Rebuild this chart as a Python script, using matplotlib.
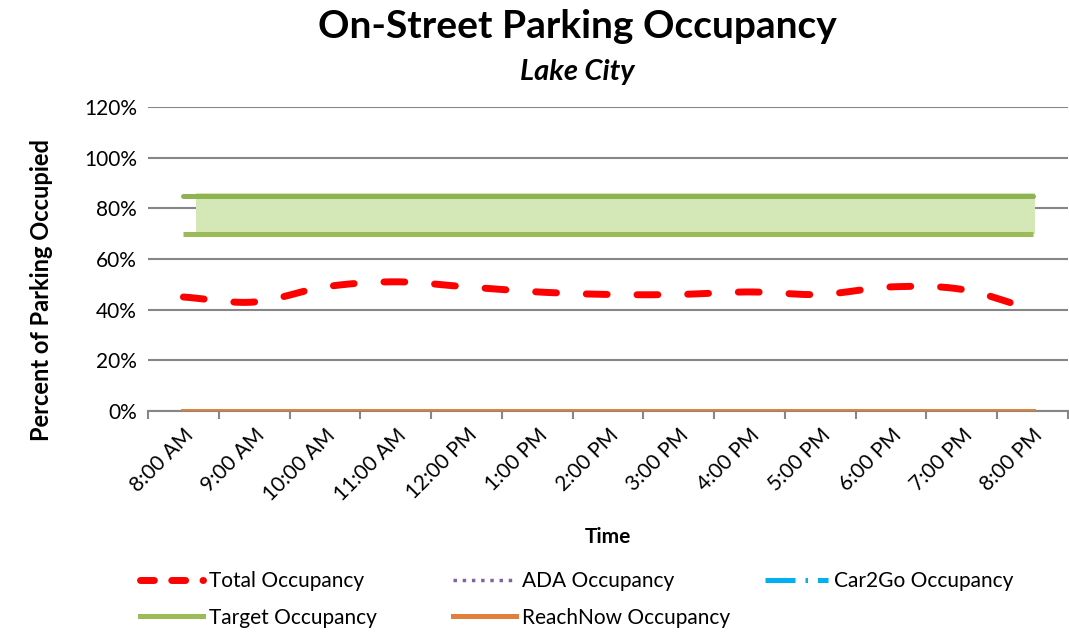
import numpy as np
import matplotlib
matplotlib.use("Agg")
import matplotlib.pyplot as plt
from matplotlib.lines import Line2D
from matplotlib.ticker import FuncFormatter, FixedLocator

plt.rcParams['font.family'] = ['Lato', 'DejaVu Sans']

# ====== data ======
times = ['8:00 AM', '9:00 AM', '10:00 AM', '11:00 AM', '12:00 PM', '1:00 PM',
         '2:00 PM', '3:00 PM', '4:00 PM', '5:00 PM', '6:00 PM', '7:00 PM', '8:00 PM']
total_occ = [0.45, 0.43, 0.49, 0.51, 0.49, 0.47, 0.46, 0.46, 0.47, 0.46, 0.49, 0.48, 0.40]
ada_occ = [0.0] * 13
car2go_occ = [0.0] * 13
reachnow_occ = [0.0] * 13
target_low = [0.70] * 13
target_high = [0.85] * 13

GREEN = '#9bbb59'
RED = '#ff0000'
ORANGE = '#e0803a'
PURPLE = '#8064a2'
CYAN = '#00b0f0'


def smooth(x, y, n=20):
    # Catmull-Rom curve through the points, like Excel's smoothed line
    x = np.asarray(x, float)
    y = np.asarray(y, float)
    px = np.concatenate([[2 * x[0] - x[1]], x, [2 * x[-1] - x[-2]]])
    py = np.concatenate([[2 * y[0] - y[1]], y, [2 * y[-1] - y[-2]]])
    xs, ys = [], []
    t = np.linspace(0, 1, n, endpoint=False)
    for i in range(1, len(px) - 2):
        for p, out in ((px, xs), (py, ys)):
            p0, p1, p2, p3 = p[i - 1], p[i], p[i + 1], p[i + 2]
            out.extend(0.5 * ((2 * p1) + (-p0 + p2) * t
                              + (2 * p0 - 5 * p1 + 4 * p2 - p3) * t ** 2
                              + (-p0 + 3 * p1 - 3 * p2 + p3) * t ** 3))
    xs.append(x[-1])
    ys.append(y[-1])
    return np.array(xs), np.array(ys)


fig = plt.figure(figsize=(10.69, 6.32), dpi=100)
ax = fig.add_axes([148 / 1069, 1 - 411 / 632, 920 / 1069, (411 - 107) / 632])

x = np.arange(len(times))

# target band (area shading, slightly offset like the original)
ax.fill_between([0.18, 12.03], [0.86, 0.86], [0.70, 0.70],
                facecolor='#d3e8b6', edgecolor='none', zorder=2)
ax.plot(x, target_high, color='#8fb350', lw=3.6, solid_capstyle='round', zorder=3)
ax.plot(x, target_low, color=GREEN, lw=3.6, solid_capstyle='butt', zorder=3)

# total occupancy, smoothed dashed line
sx, sy = smooth(x, total_occ)
ax.plot(sx, sy, color=RED, lw=5, dashes=(3, 4.3), dash_capstyle='round', zorder=4)

# zero series
ax.plot(x, ada_occ, color=PURPLE, lw=2.5, ls=':', zorder=3)
ax.plot(x, car2go_occ, color=CYAN, lw=3.6, ls='--', zorder=3)
ax.plot(x, reachnow_occ, color=ORANGE, lw=3.6, zorder=5)

ax.set_xlim(-0.5, 12.5)
ax.set_ylim(0, 1.2)
ax.set_yticks(np.arange(0, 1.21, 0.2))
ax.yaxis.set_major_formatter(FuncFormatter(lambda v, p: f'{v * 100:.0f}%'))
ax.grid(axis='y', color='#868686', lw=1.5, zorder=1)
ax.set_axisbelow(True)

ax.set_xticks(x)
ax.set_xticklabels(times, rotation=45, ha='right', rotation_mode='anchor', fontsize=15)
ax.xaxis.set_minor_locator(FixedLocator(np.arange(-0.5, 12.6, 1)))
ax.tick_params(axis='x', which='major', length=0, pad=10)
ax.tick_params(axis='x', which='minor', length=6, width=1.5, color='#868686', direction='out')
ax.tick_params(axis='y', length=0, labelsize=15, pad=8)

for s in ['top', 'right', 'left']:
    ax.spines[s].set_visible(False)
ax.spines['bottom'].set_color('#868686')
ax.spines['bottom'].set_linewidth(1.5)

ax.set_xlabel('Time', fontsize=15, fontweight='bold', labelpad=16)
ax.set_ylabel('Percent of Parking Occupied', fontsize=17, fontweight='bold')
ax.yaxis.set_label_coords((53 - 148) / 920, (411 - 290) / 304)

fig.text(577 / 1069, 1 - 27 / 632, 'On-Street Parking Occupancy', ha='center', va='center',
         fontsize=28, fontweight='bold')
fig.text(577 / 1069, 1 - 72 / 632, 'Lake City', ha='center', va='center',
         fontsize=21, fontweight='bold', style='italic')

# ====== legend, three columns placed like Excel ======
h_total = Line2D([], [], color=RED, lw=5, dashes=(2, 2.5), dash_capstyle='round')
h_target = Line2D([], [], color=GREEN, lw=3.6)
h_ada = Line2D([], [], color=PURPLE, lw=2.5, ls=':')
h_reach = Line2D([], [], color=ORANGE, lw=3.6)
h_car = Line2D([], [], color=CYAN, lw=3.6, dashes=(6, 2, 0.5, 2))

cols = [([h_total, h_target], ['Total Occupancy', 'Target Occupancy'], 140),
        ([h_ada, h_reach], ['ADA Occupancy', 'ReachNow Occupancy'], 453),
        ([h_car], ['Car2Go Occupancy'], 765)]
for hs, ls, xp in cols:
    leg = fig.legend(hs, ls, loc='upper left', bbox_to_anchor=(xp / 1069, 1 - 571 / 632),
                     frameon=False, fontsize=15, handlelength=3.0, handletextpad=0.3,
                     labelspacing=0.8, borderaxespad=0, borderpad=0)

fig.savefig('out.png', dpi=100)
